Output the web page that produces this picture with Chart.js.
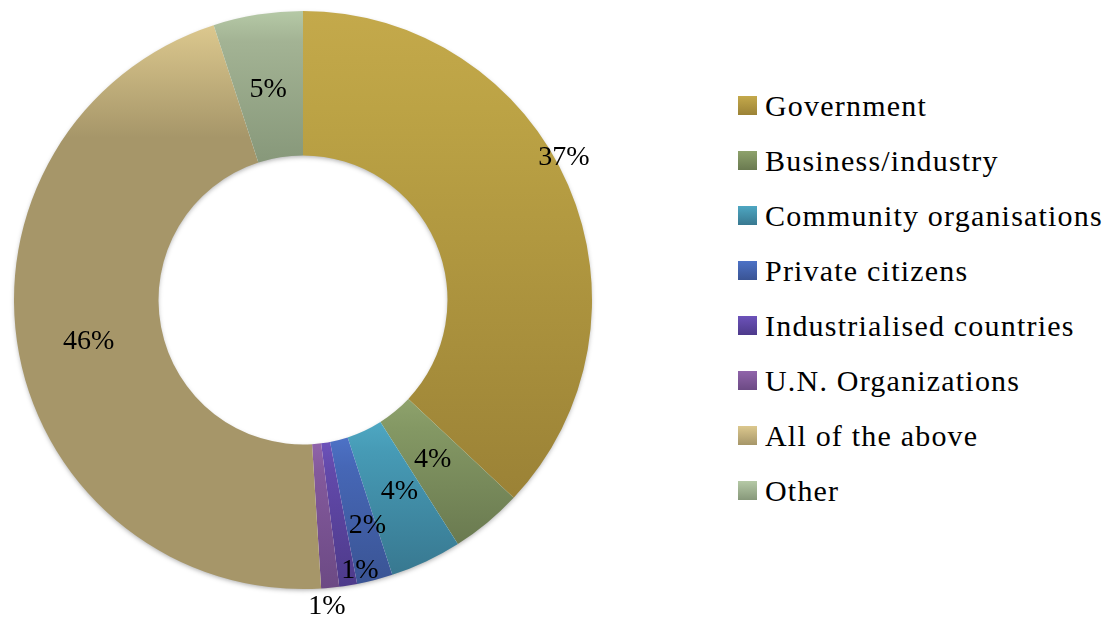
<!DOCTYPE html>
<html>
<head>
<meta charset="utf-8">
<script src="https://cdn.jsdelivr.net/npm/chart.js@4.4.1/dist/chart.umd.min.js"></script>
<style>
  html, body { margin:0; padding:0; background:#fff; }
  #wrap { position:relative; width:1115px; height:621px; overflow:hidden; }
  #chartBox { position:absolute; left:0; top:0; width:606px; height:621px; }
  #legend { position:absolute; left:738px; top:78px; font-family:"Liberation Serif", serif; font-size:30px; letter-spacing:1.2px; color:#000; }
  #legend .row { height:55px; display:flex; align-items:center; }
  #legend .box { width:19px; height:19px; margin-right:8px; flex:none; }
</style>
</head>
<body>
<div id="wrap">
  <div id="chartBox"><canvas id="donut"></canvas></div>
  <div id="legend"></div>
</div>
<script>
const $ = id => document.getElementById(id);

/* DATA */
const categories = ["Government","Business/industry","Community organisations","Private citizens","Industrialised countries","U.N. Organizations","All of the above","Other"];
const shares = [37, 4, 4, 2, 1, 1, 46, 5];

/* COLOURS: top / middle / bottom of each slice's vertical gradient */
const topColors = ["#c4a94b","#8ea26c","#4ea7c2","#4d72c6","#6c52ba","#9064aa","#dcc88e","#b5c9a6"];
const midColors = ["#bca345","#849864","#469ab5","#4667b6","#6249aa","#83599c","#a69669","#a3b394"];
const botColors = ["#9b8236","#6a7a50","#387890","#3a5494","#4d3a8a","#6c4a84","#a69669","#87987a"];

/* where each percentage sits: fraction along the slice, fraction of outer radius */
const labelAt = [[0.46,1.03],[0.53,0.71],[0.39,0.74],[0.28,0.81],[-0.3,0.955],[0.75,1.06],[0.5,0.755],[0.48,0.74]];

const total = shares.reduce((a,b)=>a+b,0);

// geometry of slice i from the chart area (no border / offset on the arcs)
function sliceGeom(chart, i){
  const a = chart.chartArea;
  const cx = (a.left + a.right)/2, cy = (a.top + a.bottom)/2;
  const outer = Math.min(a.right - a.left, a.bottom - a.top)/2;
  const inner = outer*0.5;
  let before = 0;
  for(let k=0;k<i;k++) before += shares[k];
  const start = -Math.PI/2 + 2*Math.PI*before/total;
  const end = start + 2*Math.PI*shares[i]/total;
  return {cx, cy, outer, inner, start, end};
}

function sliceFill(ctx){
  const chart = ctx.chart, i = ctx.dataIndex;
  if(!chart.chartArea) return midColors[i];
  const g = sliceGeom(chart, i);
  let minY = Infinity, maxY = -Infinity;
  for(let s=0;s<=90;s++){
    const ang = g.start + (g.end - g.start)*s/90;
    for(const r of [g.inner, g.outer]){
      const y = g.cy + r*Math.sin(ang);
      if(y < minY) minY = y;
      if(y > maxY) maxY = y;
    }
  }
  const grad = chart.ctx.createLinearGradient(0, minY, 0, maxY);
  grad.addColorStop(0, topColors[i]);
  grad.addColorStop(0.2, midColors[i]);
  grad.addColorStop(1, botColors[i]);
  return grad;
}

/* soft shadow behind the ring */
const ringShadow = {
  id:"ringShadow",
  beforeDatasetsDraw(chart){
    const g = sliceGeom(chart, 0);
    const c = chart.ctx;
    c.save();
    c.shadowColor = "rgba(0,0,0,0.35)";
    c.shadowBlur = 5;
    c.shadowOffsetY = 2;
    c.fillStyle = "#fff";
    c.beginPath();
    c.arc(g.cx, g.cy, g.outer - 1, 0, Math.PI*2);
    c.arc(g.cx, g.cy, g.inner + 1, 0, Math.PI*2, true);
    c.fill();
    c.restore();
  }
};

/* percentage labels */
const pctLabels = {
  id:"pctLabels",
  afterDatasetsDraw(chart){
    const c = chart.ctx;
    c.save();
    c.font = "28px 'Liberation Serif', serif";
    c.fillStyle = "#000";
    c.textAlign = "center";
    c.textBaseline = "middle";
    shares.forEach((v,i)=>{
      const g = sliceGeom(chart, i);
      const ang = g.start + (g.end - g.start)*labelAt[i][0];
      const r = g.outer*labelAt[i][1];
      c.fillText(v + "%", g.cx + r*Math.cos(ang), g.cy + r*Math.sin(ang) + 1);
    });
    c.restore();
  }
};

new Chart($("donut"), {
  type:"doughnut",
  data:{ labels: categories, datasets:[{ data: shares, backgroundColor: sliceFill, borderWidth:0 }] },
  options:{
    responsive:true,
    maintainAspectRatio:false,
    animation:false,
    cutout:"50%",
    layout:{ padding:{ top:11, bottom:32, left:14, right:14 } },
    plugins:{ legend:{display:false}, tooltip:{enabled:false} }
  },
  plugins:[ringShadow, pctLabels]
});

/* LEGEND */
const legend = $("legend");
categories.forEach((name,i)=>{
  const row = document.createElement("div");
  row.className = "row";
  row.innerHTML = `<span class="box" style="background:linear-gradient(${topColors[i]}, ${botColors[i]})"></span><span>${name}</span>`;
  legend.appendChild(row);
});
</script>
</body>
</html>
